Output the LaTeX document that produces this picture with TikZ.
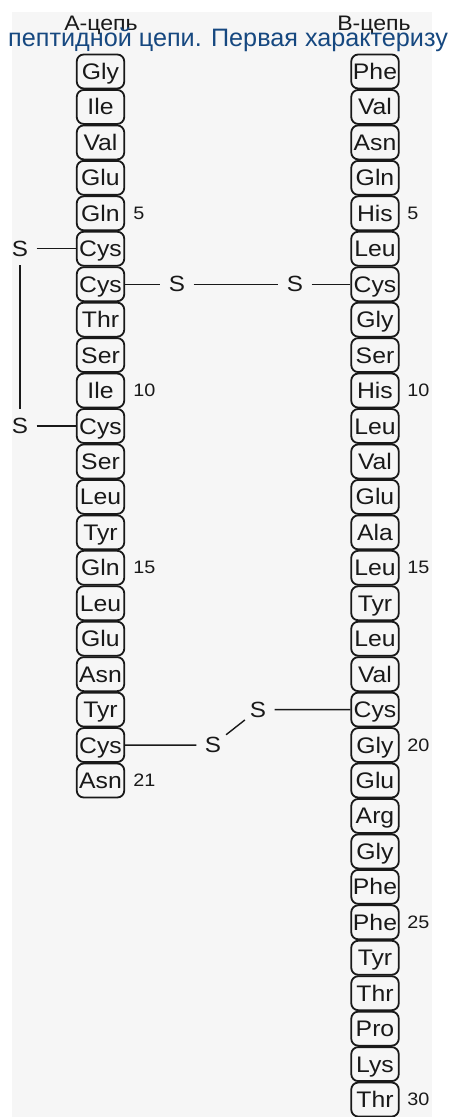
\documentclass[tikz,border=0pt]{standalone}
\usepackage{fontspec}
\setmainfont{Liberation Sans}
\newfontfamily\resfont[FakeStretch=1.1]{Liberation Sans}
\definecolor{headblue}{RGB}{22,72,128}
\definecolor{ink}{RGB}{25,25,25}
\definecolor{paper}{RGB}{246,246,246}

\begin{document}
\begin{tikzpicture}[x=1pt,y=-1pt,
  residue/.style={draw=ink, text=ink, line width=1.8pt, rounded corners=7pt,
    minimum width=47.5pt, minimum height=34pt, inner sep=0pt,
    text height=16pt, text depth=0pt,
    font=\resfont\fontsize{22.5}{26}\selectfont},
  sulfur/.style={circle, minimum size=33pt, inner sep=0pt, text=ink,
    font=\resfont\fontsize{22}{26}\selectfont},
  bond/.style={draw=ink, line width=1.4pt},
  seqnum/.style={anchor=west, inner sep=0pt, text=ink,
    font=\resfont\fontsize{18}{21}\selectfont},
  chainname/.style={anchor=base, inner sep=0pt, text=ink,
    font=\resfont\fontsize{21}{24}\selectfont}]

\useasboundingbox (0,0) rectangle (449,1117);
\clip (0,0) rectangle (449,1117);
\fill[white] (0,0) rectangle (449,1117);
\fill[paper] (12,12) rectangle (432,1117);

% chain headings
\node[chainname] (ta) at (101,30) {А-цепь};
\node[chainname] (tb) at (374,30) {В-цепь};

% A chain (21 residues)
\foreach \r [count=\i] in {Gly,Ile,Val,Glu,Gln,Cys,Cys,Thr,Ser,Ile,Cys,Ser,Leu,Tyr,Gln,Leu,Glu,Asn,Tyr,Cys,Asn}
  \node[residue] (a\i) at (100.5,{71.5+(\i-1)*35.45}) {\r};

% B chain (30 residues)
\foreach \r [count=\i] in {Phe,Val,Asn,Gln,His,Leu,Cys,Gly,Ser,His,Leu,Val,Glu,Ala,Leu,Tyr,Leu,Val,Cys,Gly,Glu,Arg,Gly,Phe,Phe,Tyr,Thr,Pro,Lys,Thr}
  \node[residue] (b\i) at (375,{71.5+(\i-1)*35.45}) {\r};

% residue numbers
\foreach \i in {5,10,15,21}
  \node[seqnum] (na\i) at ([xshift=8pt]a\i.east) {\i};
\foreach \i in {5,10,15,20,25,30}
  \node[seqnum] (nb\i) at ([xshift=7.5pt]b\i.east) {\i};

% sulfur atoms
\node[sulfur] (s1) at (20,{71.5+5*35.45}) {S};
\node[sulfur] (s2) at (20,{71.5+10*35.45}) {S};
\node[sulfur] (s3) at (177,{71.5+6*35.45}) {S};
\node[sulfur] (s4) at (295,{71.5+6*35.45}) {S};
\node[sulfur] (s5) at (213,{71.5+19*35.45}) {S};
\node[sulfur] (s6) at (258,{71.5+18*35.45}) {S};

% disulfide bridges
\draw[bond] (s1) -- (a6);
\draw[bond] (s1) -- (s2);
\draw[bond] (s2) -- (a11);
\draw[bond] (a7) -- (s3) -- (s4) -- (b7);
\draw[bond] (a20) -- (s5) -- (s6) -- (b19);

% overlapping caption line
\node[anchor=base west, inner sep=0pt, text=headblue,
  font=\fontsize{25.2}{30}\selectfont] (cap) at (8,46.7)
  {пептидной цепи. Первая характеризу};
\end{tikzpicture}
\end{document}
